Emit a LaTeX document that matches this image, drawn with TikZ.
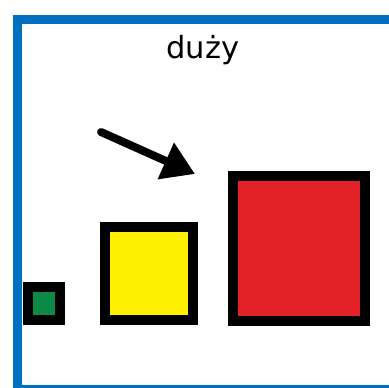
\documentclass[tikz,border=0pt]{standalone}
\usepackage{fontspec}
\setmainfont{DejaVu Sans}
\usetikzlibrary{arrows.meta}
\definecolor{frameblue}{HTML}{0070C0}
\definecolor{boxgreen}{HTML}{0E8A47}
\definecolor{boxyellow}{HTML}{FFF000}
\definecolor{boxred}{HTML}{E32227}

\begin{document}
\begin{tikzpicture}[
    x=1pt, y=-1pt,
    box/.style={draw=black, line width=10pt, inner sep=0pt},
    pointer/.style={draw=black, line width=8pt, line cap=round,
      -{Triangle[length=32pt, width=38pt]}},
    title/.style={font=\fontsize{30.5}{36}\selectfont, text=black, anchor=base},
  ]

  \useasboundingbox (0,0) rectangle (389,388);
  \clip (0,0) rectangle (389,388);

  % ---------- frame
  \draw[frameblue, line width=9pt] (17.5,19.5) rectangle (400,389.5);

  % ---------- title
  \node[title] (label) at (203,59) {duży};

  % ---------- three squares
  \node[box, fill=boxgreen, minimum width=32pt, minimum height=33pt] (small) at (44,303.5) {};
  \node[box, fill=boxyellow, minimum width=88pt, minimum height=93pt] (middle) at (148.5,273.5) {};
  \node[box, fill=boxred, minimum width=132.5pt, minimum height=144.5pt] (big) at (298.75,248.25) {};

  % ---------- arrow
  \coordinate (tail) at (101,132);
  \coordinate (tip) at (195,174);
  \draw[pointer] (tail) -- (tip);

\end{tikzpicture}
\end{document}
